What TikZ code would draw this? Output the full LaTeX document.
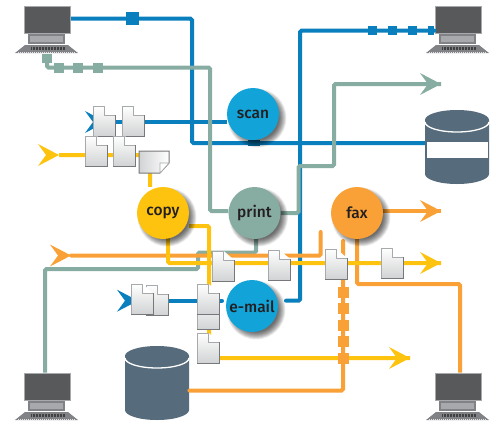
\documentclass[tikz,border=0pt]{standalone}
\usepackage{fontspec}
\setmainfont{Fira Sans}
\newfontfamily\hubfont{Fira Sans Medium}
\usetikzlibrary{calc}
\definecolor{cblue}{HTML}{0A7FBE}
\definecolor{cgreen}{HTML}{87ACA2}
\definecolor{cyel}{HTML}{FDC30F}
\definecolor{corg}{HTML}{F9A137}
\definecolor{cscan}{HTML}{12A3D8}
\definecolor{cdb}{HTML}{566B7C}
\definecolor{cink}{HTML}{231F20}
\definecolor{cdocedge}{HTML}{A7A9AC}
\definecolor{cdocdark}{HTML}{77787B}
\definecolor{cdocbot}{HTML}{D1D3D4}
\definecolor{cscreen}{HTML}{58595B}
\definecolor{cbase}{HTML}{808285}
\tikzset{
  x=1pt,y=-1pt,
  wire/.style={line width=4pt,rounded corners=1.5pt,line cap=butt},
  bluew/.style={wire,draw=cblue},
  greenw/.style={wire,draw=cgreen},
  yelw/.style={wire,draw=cyel},
  orgw/.style={wire,draw=corg},
  hub/.style={circle,minimum size=52pt,inner sep=0pt,text=cink,font=\fontsize{15.5}{17}\hubfont},
  laptop/.pic={
    \node[draw=cdocedge,line width=1.6pt,fill=cscreen,minimum width=46pt,minimum height=27pt,inner sep=0pt,anchor=north west] (-screen) at (0.5,0.5) {};
    \fill[cbase] (5,29) rectangle (42,39);
    \fill[cdocedge] (7,31) rectangle (40,37);
    \fill[cbase] (2,40) -- (45,40) -- (55,48) -- (-8,48) -- cycle;
    \draw[black!75,line width=3.5pt,dash pattern=on 0.8pt off 0.7pt] (8,43.5) -- (42,43.5);
    \draw[white!80!gray,line width=0.8pt,dash pattern=on 1pt off 1pt] (-5,47) -- (52,47);
  },
  docpage/.pic={
    \shade[top color=white,bottom color=cdocbot] (0,0) -- (11.5,0) -- (22,9) -- (22,30) -- (0,30) -- cycle;
    \fill[white] (11.5,0) -- (22,9) -- (11.5,9) -- cycle;
    \draw[cdocedge,line width=1pt,line join=round] (22,30) -- (0,30) -- (0,0) -- (11.5,0) -- (11.5,9) -- (22,9);
    \draw[cdocdark,line width=1pt] (22,9) -- (22,30) -- (0,30);
  },
  chevron/.pic={
    \fill[pic actions] (-21,-11) -- (-13,0) -- (-21,11) -- (0,0) -- cycle;
  },
  sq/.style={minimum width=#1,minimum height=10pt,inner sep=0pt},
}
\newcommand{\hubshadow}[1]{%
  \foreach \r in {29.5,29,...,22}{\fill[black,opacity=0.05] ($(#1)+(4,4)$) circle (\r);}%
}
\newcommand{\barrel}[3]{% name, x, y(top): 64 x 74
  \begin{scope}[shift={(#2,#3)}]
    \fill[cdb] (0,10) -- (0,64) arc[start angle=180,end angle=360,x radius=32,y radius=-10] -- (64,10) -- cycle;
    \fill[cdb] (32,10) ellipse[x radius=32,y radius=10];
    \draw[white,line width=1.3pt] (0,12) arc[start angle=180,end angle=360,x radius=32,y radius=-10];
    \node[inner sep=0pt,minimum width=64pt,minimum height=74pt,anchor=north west] (#1) at (0,0) {};
  \end{scope}%
}
\begin{document}
\begin{tikzpicture}
\useasboundingbox (0,0) rectangle (496,424);
% hubs positions
\coordinate (pscan) at (253,114);
\coordinate (pprint) at (254.5,213);
\coordinate (pcopy) at (163,213);
\coordinate (pfax) at (357,213);
\coordinate (pmail) at (252,306);
% end points
\coordinate (endA) at (441,84);
\coordinate (endB) at (441,211);
\coordinate (endC) at (441,263);
\coordinate (endD) at (410,358);
\coordinate (startY) at (59,155);
\coordinate (startO) at (71,255.5);
\coordinate (startB) at (106,122);
\coordinate (startM) at (138,300.7);
\coordinate (stubO) at (320.7,232);
\coordinate (stubF) at (343,241);
\coordinate (stubM) at (222,300.7);
\coordinate (stubP) at (286,300.7);
% devices
\pic (lapA) at (23,5) {laptop};
\pic (lapB) at (434,5) {laptop};
\pic (lapC) at (23,372) {laptop};
\pic (lapD) at (434,372) {laptop};
\barrel{dbA}{425}{110}
\barrel{dbB}{125}{346}
\fill[white] (427,142) rectangle (488,158);
% hub nodes (invisible anchors first)
\node[hub] (scan) at (pscan) {};
\node[hub] (print) at (pprint) {};
\node[hub] (copy) at (pcopy) {};
\node[hub] (fax) at (pfax) {};
\node[hub] (mail) at (pmail) {};
% blue connectors
\draw[bluew] (lapA-screen.east |- 0,18.7) -- (192,18.7) -- (192,143) -- (dbA.west |- 0,143);
\node[fill=cblue,sq=13pt,minimum height=13pt] (bsqA) at (132.5,18.7) {};
\draw[bluew] (startB) -- (scan.west |- startB);
\node[fill=cblue!85!black,sq=12pt,minimum height=6pt] (bsqB) at (254,143) {};
\draw[bluew,line cap=round] (lapB-screen.west |- 0,30.7) -- (300,30.7) -- (300,300.7) -- (stubP);
\foreach \n/\x/\w in {a/372.5/9,b/392.5/9,c/412.5/9,d/431/6}
  \node[fill=cblue,sq=\w pt,minimum height=9pt] (bsq\n) at (\x,30.7) {};
\draw[bluew,line cap=round] (startM) -- (stubM);
% green connectors
\draw[greenw] (print.south -| 256,0) -- (256,252.5) -- (198,252.5) -- (198,269) -- (45,269) -- (lapC-screen.north -| 45,0);
\draw[greenw] (47,60) -- (47,67.5) -- (210,67.5) -- (210,211) -- (print.west |- 0,211);
\node[fill=cgreen,sq=10pt,minimum height=9pt] (gsqa) at (47,58) {};
\foreach \n/\x in {b/59,c/78,d/98}
  \node[fill=cgreen,sq=10pt] (gsq\n) at (\x,67.5) {};
\draw[greenw] (print.east |- 0,213) -- (298.5,213) -- (298.5,166) -- (334,166) -- (334,84) -- (endA);
% orange connectors
\draw[orgw,line cap=round] (startO) -- (320.7,255.5) -- (stubO);
\draw[orgw] (fax.east |- endB) -- (endB);
\draw[orgw] (fax.south) -- (357,284) -- (460,284) -- (lapD-screen.north -| 460,0);
\draw[orgw,line cap=round] (stubF) -- (343,390.5) -- (dbB.east |- 0,390.5);
\foreach \n/\y in {a/292,b/308,c/325,d/341}
  \node[fill=corg,sq=11pt,minimum height=11pt] (osq\n) at (343,\y) {};
% yellow connectors
\draw[yelw] (startY) -- (150,155) -- (copy.north -| 150,0);
\draw[yelw] (168,230) -- (168,263) -- (endC);
\draw[yelw] (copy.east |- 0,226) -- (209,226) -- (209,358) -- (endD);
\node[fill=corg,sq=11pt,minimum height=11pt] (osqf) at (343,358) {};
% arrowheads
\pic[fill=cgreen] at (endA) {chevron};
\pic[fill=corg] at (endB) {chevron};
\pic[fill=cyel] at (endC) {chevron};
\pic[fill=cyel] at (endD) {chevron};
\pic[fill=cyel] at (startY) {chevron};
\pic[fill=corg] at (startO) {chevron};
\pic[fill=cblue] at (startB) {chevron};
\pic[fill=cblue] at (startM) {chevron};
% documents
\pic at (93,106) {docpage};
\pic at (122,106) {docpage};
\pic at (85,136) {docpage};
\pic at (113,136) {docpage};
\shade[left color=cdocbot,right color=white,draw=cdocdark,line width=1pt] (139,151) -- (169,151) -- (169,163) -- (160,173) -- (139,173) -- cycle;
\fill[white,draw=cdocedge,line width=0.6pt] (169,163) -- (160,163) -- (160,173) -- cycle;
\pic at (212,251) {docpage};
\pic at (268,250) {docpage};
\pic at (325,249) {docpage};
\pic at (381,248) {docpage};
\pic at (146,285) {docpage};
\pic at (131,284) {docpage};
\pic at (197,299) {docpage};
\pic at (197,284) {docpage};
\pic at (197,333) {docpage};
% hubs
\foreach \h/\c/\t/\n in {pscan/cscan/scan/tscan,pprint/cgreen/print/tprint,pcopy/cyel/copy/tcopy,pfax/corg/fax/tfax,pmail/cscan/e-mail/tmail}{
  \hubshadow{\h}
  \node[hub,fill=\c] (\n) at (\h) {\t};
}
\end{tikzpicture}
\end{document}
